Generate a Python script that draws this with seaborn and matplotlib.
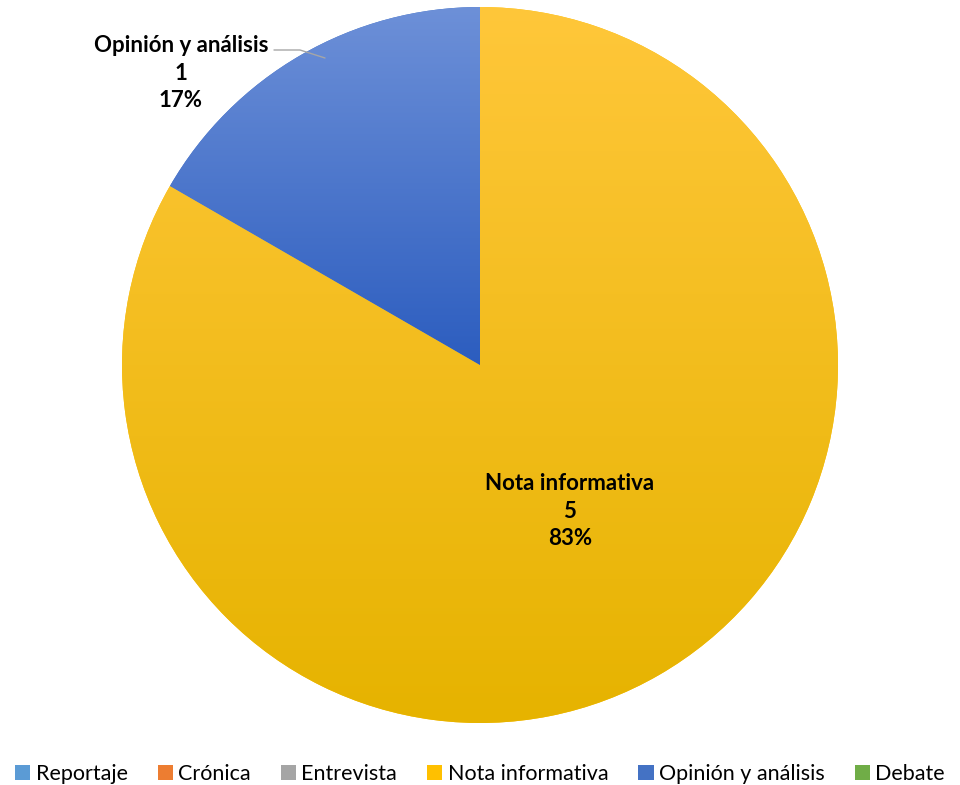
import numpy as np
import pandas as pd
import matplotlib
matplotlib.use("Agg")
import matplotlib.pyplot as plt
from matplotlib.colors import LinearSegmentedColormap
from matplotlib.patches import Patch
import seaborn as sns

categories = ["Reportaje", "Crónica", "Entrevista", "Nota informativa", "Opinión y análisis", "Debate"]
counts = [0, 0, 0, 5, 1, 0]
base_colors = ["#5B9BD5", "#ED7D31", "#A5A5A5", "#FFC000", "#4472C4", "#70AD47"]
# top/bottom shades for the gradient fill
top_colors = ["#7CB0E0", "#F29A5A", "#BDBDBD", "#FFC73A", "#6D90D8", "#8CC26A"]
bottom_colors = ["#3F86C8", "#D96A1E", "#8F8F8F", "#E6B300", "#2C5DBF", "#5A9535"]

df = pd.DataFrame({"categoria": categories, "n": counts})

sns.set_style("white")
plt.rcParams["font.family"] = ["Lato", "DejaVu Sans"]
plt.rcParams["text.color"] = "black"

fig = plt.figure(figsize=(9.6, 7.85), dpi=100)
ax = fig.add_axes([0, 0, 1, 1])

R = 358.0
XL = (-480 / R, 480 / R)
YL = ((365 - 785) / R, 365 / R)
ax.axis("off")

nz = df[df["n"] > 0]
wedges, _ = ax.pie(nz["n"], startangle=90, counterclock=False, radius=1.0,
                   colors=[base_colors[categories.index(c)] for c in nz["categoria"]],
                   wedgeprops=dict(linewidth=0))

grad = np.linspace(1, 0, 256).reshape(-1, 1)
for w, cat in zip(wedges, nz["categoria"]):
    i = categories.index(cat)
    cmap = LinearSegmentedColormap.from_list(cat, [bottom_colors[i], top_colors[i]])
    ext = w.get_path().get_extents()
    im = ax.imshow(grad, cmap=cmap, extent=(ext.x0, ext.x1, ext.y0, ext.y1),
                   aspect="auto", origin="upper", zorder=2)
    im.set_clip_path(w)
ax.set_xlim(*XL)
ax.set_ylim(*YL)


def px(x, y):
    return (x - 480) / R, (365 - y) / R


total = sum(counts)
for cat, lx, ly in [("Nota informativa", 570, 511), ("Opinión y análisis", 181, 73)]:
    n = counts[categories.index(cat)]
    ax.text(*px(lx, ly), f"{cat}\n{n}\n{round(100 * n / total)}%",
            ha="center", va="center", fontsize=16, fontweight="bold",
            linespacing=1.38, color="black", zorder=5)

# leader line for the small slice
xs, ys = zip(px(274, 50), px(300, 50), px(325, 58))
ax.plot(xs, ys, color="#A6A6A6", lw=1, zorder=4)

handles = [Patch(facecolor=base_colors[i], edgecolor="none", label=c) for i, c in enumerate(categories)]
fig.legend(handles=handles, loc="center", bbox_to_anchor=(0.5, 1 - 774 / 785), ncol=6,
           frameon=False, fontsize=15.5, handlelength=0.7, handleheight=0.7,
           handletextpad=0.25, columnspacing=1.4)

fig.savefig("out.png", dpi=100, facecolor="white")
